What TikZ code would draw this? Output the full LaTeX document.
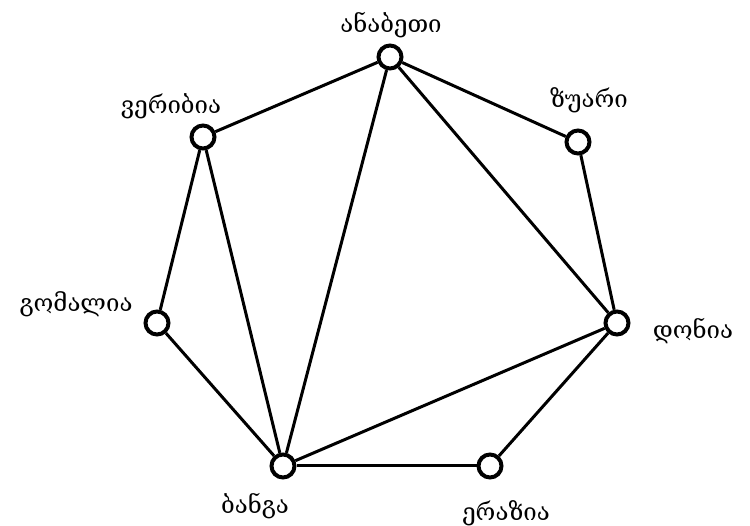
\documentclass[tikz,border=0pt]{standalone}
\usepackage{fontspec}
\newfontfamily\geofont{DejaVu Serif}
\begin{document}
\begin{tikzpicture}[x=1pt,y=-1pt,
  vtx/.style={circle,draw,line width=4pt,fill=white,minimum size=23pt,inner sep=0pt},
  lbl/.style={font=\geofont\fontsize{24}{28}\selectfont,inner sep=0pt},
  edge/.style={line width=3pt}]
\useasboundingbox (0,0) rectangle (750,526);
\node[vtx] (a) at (390,57) {};
\node[vtx] (z) at (578,142) {};
\node[vtx] (v) at (203,137) {};
\node[vtx] (g) at (157,323) {};
\node[vtx] (d) at (617,323) {};
\node[vtx] (b) at (283,466) {};
\node[vtx] (e) at (490,466) {};
\node[lbl] (la) at (391,25) {ანაბეთი};
\node[lbl] (lz) at (589,100) {ზუარი};
\node[lbl] (lv) at (171,106) {ვერიბია};
\node[lbl] (lg) at (76,304) {გომალია};
\node[lbl] (ld) at (693,331) {დონია};
\node[lbl] (lb) at (255,506) {ბანგა};
\node[lbl] (le) at (506,513) {ერაზია};
\draw[edge] (a) -- (z);
\draw[edge] (a) -- (v);
\draw[edge] (a) -- (b);
\draw[edge] (a) -- (d);
\draw[edge] (z) -- (d);
\draw[edge] (v) -- (g);
\draw[edge] (v) -- (b);
\draw[edge] (g) -- (b);
\draw[edge] (b) -- (d);
\draw[edge] (b) -- (e);
\draw[edge] (e) -- (d);
\end{tikzpicture}
\end{document}
